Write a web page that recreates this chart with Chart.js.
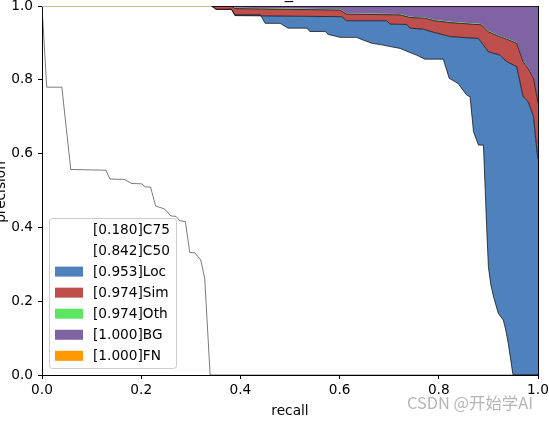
<!DOCTYPE html>
<html>
<head>
<meta charset="utf-8">
<script src="https://cdn.jsdelivr.net/npm/chart.js@4/dist/chart.umd.min.js"></script>
<style>
  html, body { margin: 0; padding: 0; background: #fff; }
  #wrap { width: 549px; height: 422px; position: relative; }
</style>
</head>
<body>
<div id="wrap"><canvas id="c" width="549" height="422"></canvas></div>
<script>
// ---- data ----
const seriesNames = ['C75', 'C50', 'Loc', 'Sim', 'Oth', 'BG', 'FN'];
const apValues = [0.180, 0.842, 0.953, 0.974, 0.974, 1.000, 1.000];
const xTicks = [0, 0.2, 0.4, 0.6, 0.8, 1.0];
const yTicks = [0, 0.2, 0.4, 0.6, 0.8, 1.0];

const recallC75 = [0, 0.0095, 0.040, 0.058, 0.129, 0.137, 0.166, 0.181, 0.201, 0.208, 0.219, 0.229, 0.247, 0.260, 0.270, 0.278, 0.289, 0.298, 0.308, 0.320, 0.328, 0.339, 1.0];
const precC75   = [1.0, 0.780, 0.780, 0.557, 0.555, 0.531, 0.530, 0.519, 0.518, 0.510, 0.509, 0.458, 0.450, 0.431, 0.430, 0.418, 0.416, 0.332, 0.331, 0.312, 0.262, 0.0, 0.0];

const recallC50 = [0, 0.342, 0.351, 0.382, 0.389, 0.440, 0.450, 0.480, 0.496, 0.534, 0.540, 0.571, 0.577, 0.601, 0.634, 0.647, 0.665, 0.688, 0.702, 0.722, 0.738, 0.755, 0.772, 0.809, 0.821, 0.839, 0.856, 0.863, 0.870, 0.880, 0.890, 0.893, 0.897, 0.900, 0.905, 0.911, 0.920, 0.930, 0.935, 0.940, 0.949, 0.950, 1.0];
const precC50   = [1.0, 1.0, 0.991, 0.991, 0.976, 0.976, 0.953, 0.953, 0.940, 0.940, 0.931, 0.931, 0.923, 0.915, 0.915, 0.908, 0.899, 0.894, 0.890, 0.885, 0.876, 0.867, 0.856, 0.856, 0.804, 0.790, 0.759, 0.754, 0.659, 0.623, 0.623, 0.520, 0.385, 0.293, 0.244, 0.209, 0.167, 0.149, 0.122, 0.086, 0.005, 0.0, 0.0];

const recallLoc = [0, 0.342, 0.351, 0.382, 0.389, 0.604, 0.614, 0.695, 0.702, 0.735, 0.742, 0.769, 0.789, 0.823, 0.880, 0.900, 0.923, 0.937, 0.957, 0.970, 0.980, 0.991, 0.999, 1.0];
const precLoc   = [1.0, 1.0, 0.991, 0.991, 0.974, 0.971, 0.960, 0.960, 0.951, 0.950, 0.940, 0.937, 0.929, 0.917, 0.912, 0.876, 0.867, 0.849, 0.836, 0.754, 0.741, 0.700, 0.592, 0.585];

const recallSim = [0, 0.382, 0.389, 0.601, 0.614, 0.722, 0.742, 0.772, 0.792, 0.823, 0.886, 0.900, 0.923, 0.937, 0.957, 0.970, 0.980, 0.991, 0.999, 1.0];
const precSim   = [1.0, 1.0, 0.993, 0.989, 0.978, 0.976, 0.969, 0.967, 0.960, 0.955, 0.949, 0.930, 0.917, 0.910, 0.899, 0.849, 0.831, 0.804, 0.745, 0.737];

const recallOth = [0, 0.382, 0.389, 0.601, 0.614, 0.722, 0.742, 0.772, 0.792, 0.823, 0.886, 0.900, 0.923, 0.937, 0.957, 0.970, 0.980, 0.991, 0.999, 1.0];
const precOth   = [1.0, 1.0, 0.995, 0.991, 0.980, 0.978, 0.971, 0.969, 0.962, 0.957, 0.951, 0.932, 0.919, 0.912, 0.901, 0.851, 0.833, 0.806, 0.747, 0.739];

const recallBG = [0, 1.0];
const precBG   = [1.0, 1.0];

const recallFN = [0, 0.342, 1.0];
const precFN   = [1.0, 1.0, 1.0];

// ---- styles ----
const fillColors = ['#ffffff', '#ffffff', 'rgb(79,130,189)', 'rgb(191,79,77)', 'rgb(92,230,97)', 'rgb(128,99,163)', 'rgb(255,153,0)'];
const FONT = "'DejaVu Sans', 'Liberation Sans', sans-serif";

function pts(r, p) { return r.map((v, i) => ({ x: v, y: p[i] })); }

const recalls = [recallC75, recallC50, recallLoc, recallSim, recallOth, recallBG, recallFN];
const precs = [precC75, precC50, precLoc, precSim, precOth, precBG, precFN];

const datasets = seriesNames.map((name, i) => {
  const ds = {
    label: '[' + apValues[i].toFixed(3) + ']' + name,
    data: pts(recalls[i], precs[i]),
    borderColor: '#000',
    borderWidth: 0.7,
    borderJoinStyle: 'round',
    backgroundColor: fillColors[i],
    pointRadius: 0,
    tension: 0,
    fill: i < 2 ? false : '-1'
  };
  if (name === 'C75') { ds.borderColor = '#222'; ds.borderWidth = 0.6; }
  if (name === 'Oth' || name === 'BG') ds.borderWidth = 0;
  if (name === 'FN') {
    ds.borderWidth = 1.6;
    ds.order = -1;
    ds.segment = { borderColor: c => c.p0DataIndex === 0 ? 'rgb(255,226,180)' : '#000' };
  }
  return ds;
});

const decor = {
  id: 'decor',
  afterDatasetsDraw(chart) {
    const { ctx, chartArea: a } = chart;
    ctx.save();
    // right spine
    ctx.strokeStyle = '#000';
    ctx.lineWidth = 1;
    ctx.beginPath();
    ctx.moveTo(Math.round(a.right) + 0.5, a.top);
    ctx.lineTo(Math.round(a.right) + 0.5, a.bottom + 0.5);
    ctx.stroke();
    ctx.restore();
  },
  afterDraw(chart) {
    const { ctx, chartArea: a } = chart;
    ctx.save();
    // legend
    const lx = 49.5, ly = 218.5, lw = 127, lh = 150, rr = 3;
    ctx.beginPath();
    ctx.moveTo(lx + rr, ly);
    ctx.lineTo(lx + lw - rr, ly);
    ctx.arcTo(lx + lw, ly, lx + lw, ly + rr, rr);
    ctx.lineTo(lx + lw, ly + lh - rr);
    ctx.arcTo(lx + lw, ly + lh, lx + lw - rr, ly + lh, rr);
    ctx.lineTo(lx + rr, ly + lh);
    ctx.arcTo(lx, ly + lh, lx, ly + lh - rr, rr);
    ctx.lineTo(lx, ly + rr);
    ctx.arcTo(lx, ly, lx + rr, ly, rr);
    ctx.closePath();
    ctx.fillStyle = 'rgba(255,255,255,0.8)';
    ctx.fill();
    ctx.strokeStyle = 'rgb(204,204,204)';
    ctx.lineWidth = 1;
    ctx.stroke();
    ctx.font = '13.7px ' + FONT;
    ctx.textBaseline = 'middle';
    ctx.textAlign = 'left';
    chart.data.datasets.forEach((ds, i) => {
      const cy = 229.5 + i * 21.05;
      ctx.fillStyle = fillColors[i];
      ctx.fillRect(55, cy - 5, 28, 10);
      ctx.fillStyle = '#000';
      ctx.fillText(ds.label, 93, cy + 0.5);
    });
    // axis titles
    ctx.fillStyle = '#000';
    ctx.font = '13.7px ' + FONT;
    ctx.textAlign = 'center';
    ctx.textBaseline = 'alphabetic';
    ctx.fillText('recall', (a.left + a.right) / 2, 415);
    ctx.save();
    ctx.translate(5, 192);
    ctx.rotate(-Math.PI / 2);
    ctx.fillText('precision', 0, 0);
    ctx.restore();
    // cut-off title remnant
    ctx.font = '16.7px ' + FONT;
    ctx.fillText('_', 289, -2.3);
    // watermark
    ctx.font = "16.4px 'Noto Sans CJK SC', 'Noto Sans', sans-serif";
    ctx.fillStyle = 'rgba(150,150,150,0.7)';
    ctx.textAlign = 'left';
    ctx.textBaseline = 'middle';
    ctx.fillText('CSDN @开始学AI', 407, 403);
    ctx.restore();
  }
};

const axisCommon = (ticksArr) => ({
  type: 'linear',
  min: 0,
  max: 1,
  afterBuildTicks: s => { s.ticks = ticksArr.map(v => ({ value: v })); },
  ticks: {
    callback: v => Number(v).toFixed(1),
    color: '#000',
    font: { family: FONT, size: 13.7 },
    padding: 3,
    maxRotation: 0,
    autoSkip: false
  },
  grid: { drawOnChartArea: false, drawTicks: true, tickLength: 4, color: '#000', lineWidth: 1 },
  border: { display: true, color: '#000', width: 1 }
});

const xAxis = axisCommon(xTicks);
xAxis.afterFit = s => { s.height = 47; s.paddingLeft = 0; s.paddingRight = 0; s.paddingTop = 0; s.paddingBottom = 0; };
const yAxis = axisCommon(yTicks);
yAxis.afterFit = s => { s.width = 42; s.paddingLeft = 0; s.paddingRight = 0; s.paddingTop = 0; s.paddingBottom = 0; };
yAxis.ticks.padding = 5;

new Chart(document.getElementById('c'), {
  type: 'line',
  data: { datasets },
  options: {
    responsive: false,
    animation: false,
    devicePixelRatio: 1,
    layout: { padding: { top: 6, right: 11, left: 0, bottom: 0 } },
    plugins: { legend: { display: false }, tooltip: { enabled: false }, title: { display: false } },
    scales: { x: xAxis, y: yAxis }
  },
  plugins: [decor]
});
</script>
</body>
</html>
